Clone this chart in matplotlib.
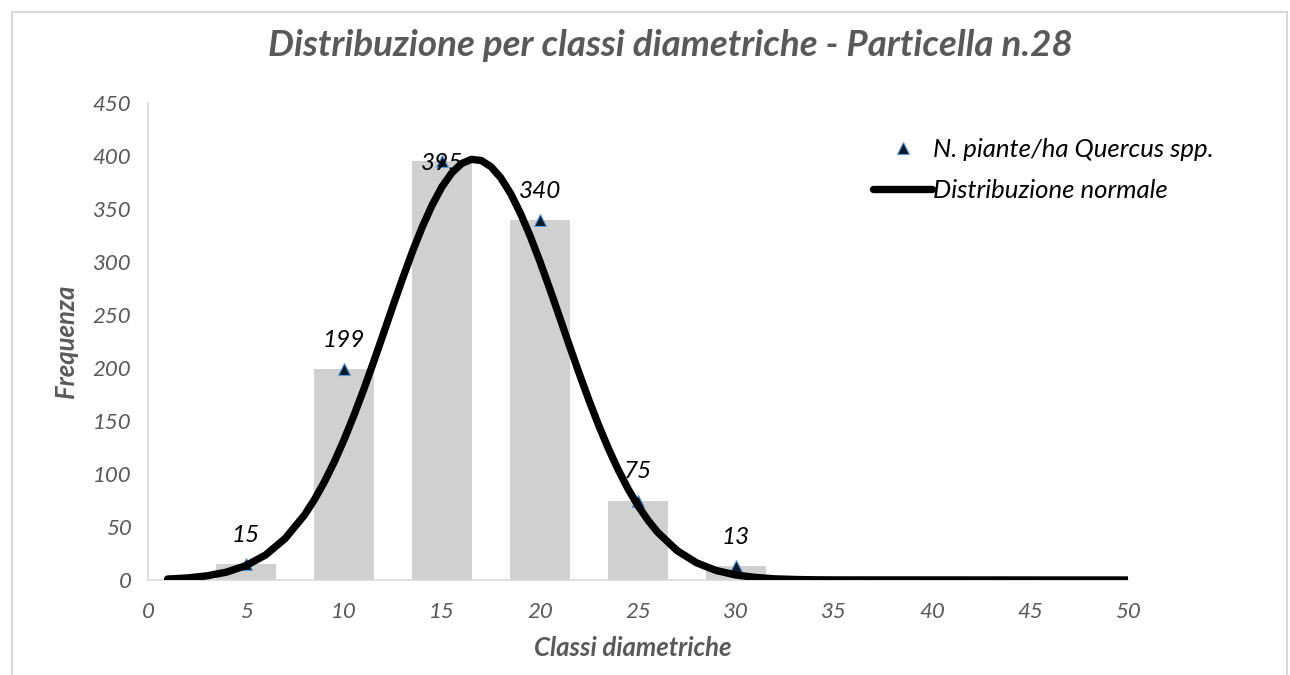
import matplotlib
matplotlib.use('Agg')
import matplotlib.pyplot as plt
from matplotlib.patches import Rectangle

plt.rcParams['font.family'] = ['Lato', 'DejaVu Sans']

# classi diametriche e frequenze (piante/ha)
classi = [5, 10, 15, 20, 25, 30]
freq = [15, 199, 395, 340, 75, 13]

# curva normale
norm_x = [1, 2, 3, 4, 5, 6, 7, 8,
	8.5, 9, 9.5, 10, 10.5, 11, 11.5, 12, 12.5, 13, 13.5, 14, 14.5, 15, 15.5, 16, 16.5, 17,
	17.5, 18, 18.5, 19, 19.5, 20, 20.5, 21, 21.5, 22, 22.5, 23, 23.5, 24, 24.5, 25, 25.5, 26,
	27, 28, 29, 30, 31, 32, 33, 34, 35, 50]
norm_y = [0.9, 1.9, 3.9, 7.4, 13.6, 23.6, 39.2, 61.7,
	76.1, 92.6, 111.3, 132.2, 155, 179.4, 205.2, 231.8, 258.7, 285, 310.2, 333.4, 353.8, 371, 384.1, 392.9, 396.8, 395.8,
	389.9, 379.4, 364.6, 346, 324.4, 300.3, 274.6, 248, 221.1, 194.8, 169.5, 145.6, 123.6, 103.6, 85.7, 70.1, 56.6, 45.1,
	27.6, 16.1, 8.9, 4.7, 2.4, 1.1, 0.5, 0.2, 0.1, 0]

xticks = list(range(0, 55, 5))
yticks = list(range(0, 500, 50))

grigio = '#595959'

fig = plt.figure(figsize=(12.9, 6.75), dpi=100)
fig.patches.append(Rectangle((12/1290, -0.1), 1275/1290, 1.1 - 12/675, transform=fig.transFigure,
	fill=False, edgecolor='#d9d9d9', lw=1.5))

ax = fig.add_axes([148/1290, 95/675, 980/1290, 477/675])

ax.bar(classi, freq, width=3.1, color='#d0d0d0', zorder=1)
ax.plot(classi, freq, linestyle='none', marker='^', markersize=9, markerfacecolor='#0e1a2e',
	markeredgecolor='#5b9bd5', markeredgewidth=0.8, zorder=2, label='N. piante/ha Quercus spp.')
ax.plot(norm_x, norm_y, color='black', lw=5.3, solid_capstyle='round', zorder=3, label='Distribuzione normale')

for x, v in zip(classi, freq):
	dy = -9 if v + 35 > 420 else 13
	ax.annotate(str(v), (x, v), xytext=(0, dy), textcoords='offset points', ha='center', va='bottom',
		fontsize=17.5, fontstyle='italic', color='black', zorder=4)

ax.set_xlim(0, 50)
ax.set_ylim(0, 450)
ax.set_xticks(xticks)
ax.set_yticks(yticks)
ax.tick_params(length=0, labelsize=16, labelcolor=grigio)
ax.tick_params(axis='x', pad=16)
ax.tick_params(axis='y', pad=12)
for lab in ax.get_xticklabels() + ax.get_yticklabels():
	lab.set_fontstyle('italic')
for s in ['top', 'right']:
	ax.spines[s].set_visible(False)
for s in ['left', 'bottom']:
	ax.spines[s].set_color('#d9d9d9')
	ax.spines[s].set_linewidth(1.2)

fig.text(670/1290, 1 - 45/675, 'Distribuzione per classi diametriche - Particella n.28', ha='center', va='center',
	fontsize=26.5, fontweight='bold', fontstyle='italic', color=grigio)
fig.text(633/1290, 1 - 648/675, 'Classi diametriche', ha='center', va='center',
	fontsize=18.5, fontweight='bold', fontstyle='italic', color=grigio)
fig.text(66/1290, 1 - 341/675, 'Frequenza', ha='center', va='center', rotation=90,
	fontsize=18.5, fontweight='bold', fontstyle='italic', color=grigio)

leg = ax.legend(loc='upper left', bbox_to_anchor=(873/1290, 1 - 138/675), bbox_transform=fig.transFigure,
	frameon=False, fontsize=18.5, handlelength=2.3, handletextpad=0.05, borderpad=0, borderaxespad=0,
	labelspacing=0.7)
for t in leg.get_texts():
	t.set_fontstyle('italic')

fig.savefig('out.png', dpi=100)
